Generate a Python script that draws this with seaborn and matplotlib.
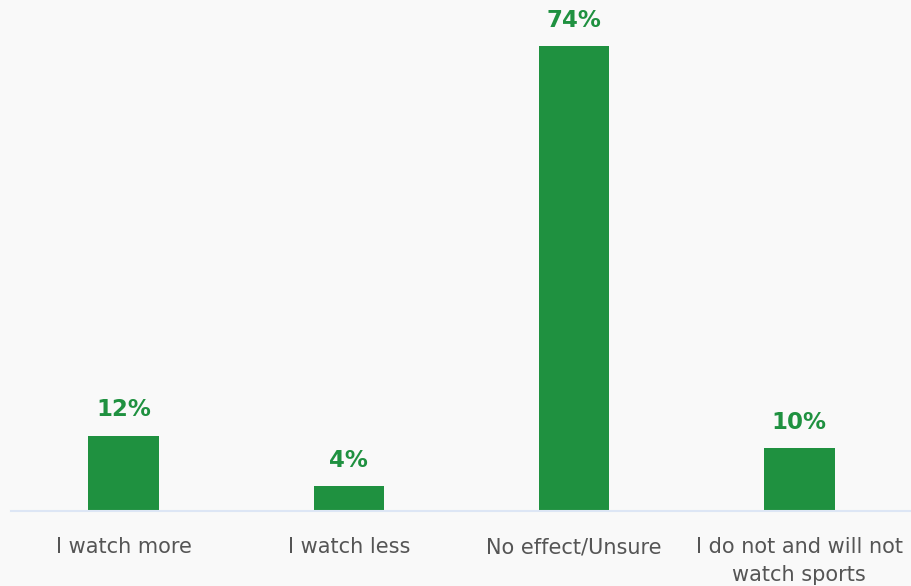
import matplotlib
matplotlib.use("Agg")
import matplotlib.pyplot as plt
import seaborn as sns
import pandas as pd

categories = ["I watch more", "I watch less", "No effect/Unsure", "I do not and will not\nwatch sports"]
values = [12, 4, 74, 10]
labels = ["12%", "4%", "74%", "10%"]

bg = "#f9f9f9"
green = "#1f9140"

sns.set_theme(style="white")
plt.rcParams['font.family'] = ['DejaVu Sans']

df = pd.DataFrame({"cat": categories, "val": values})

fig = plt.figure(figsize=(9.12, 5.86), dpi=100, facecolor=bg)
ax = fig.add_axes([11/912, 75/586, 901/912, 511/586])
ax.set_facecolor(bg)
sns.barplot(data=df, x="cat", y="val", color=green, width=0.312, saturation=1,
            edgecolor="none", linewidth=0, ax=ax)
ax.set_ylim(0, 81.4)
ax.set_xlim(-0.5, 3.5)
for s in ["top", "right", "left"]:
    ax.spines[s].set_visible(False)
ax.spines["bottom"].set_color("#dde6f5")
ax.spines["bottom"].set_linewidth(1.5)
ax.set_yticks([])
ax.set_xlabel("")
ax.set_ylabel("")
ax.tick_params(axis="x", length=0, pad=19, labelsize=15, labelcolor="#555555")
for lab in ax.get_xticklabels():
    lab.set_linespacing(1.5)
for p, t in zip(ax.patches, labels):
    ax.annotate(t, (p.get_x() + p.get_width() / 2, p.get_height()),
                xytext=(0, 18.5), textcoords="offset points", ha="center", va="center",
                fontsize=16.5, fontweight="bold", color=green)
fig.savefig("out.png", dpi=100, facecolor=bg)
